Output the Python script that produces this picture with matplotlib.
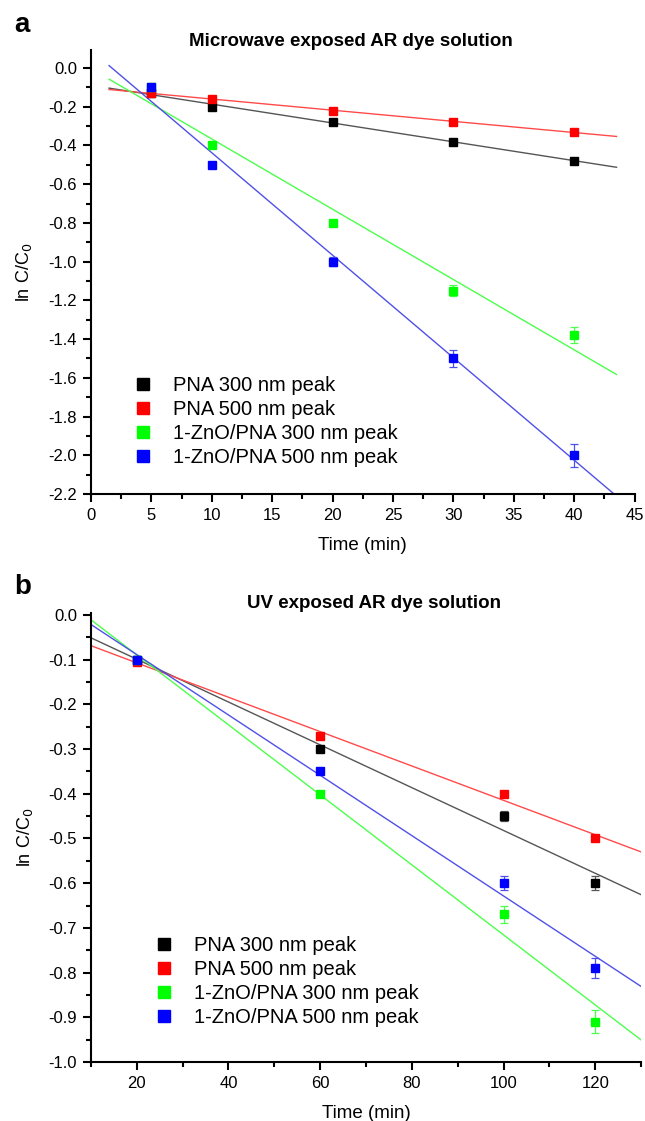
import numpy as np
import matplotlib
matplotlib.use("Agg")
import matplotlib.pyplot as plt
from matplotlib.ticker import MultipleLocator
from matplotlib.lines import Line2D

plt.rcParams['font.family'] = ['Liberation Sans', 'DejaVu Sans']

# ---------------- data ----------------
labels = ["PNA 300 nm peak", "PNA 500 nm peak",
          "1-ZnO/PNA 300 nm peak", "1-ZnO/PNA 500 nm peak"]
marker_colors = ["#000000", "#ff0000", "#00ff00", "#0000ff"]
line_colors = ["#555555", "#ff4a4a", "#4cff4c", "#5050e8"]

# Panel a: microwave exposed
time_a = [5, 10, 20, 30, 40]
pna300_a = [-0.13, -0.20, -0.28, -0.38, -0.48]
pna500_a = [-0.13, -0.16, -0.22, -0.28, -0.33]
zno300_a = [-0.10, -0.40, -0.80, -1.15, -1.38]
zno500_a = [-0.10, -0.50, -1.00, -1.50, -2.00]
err_pna300_a = [0.005, 0.005, 0.005, 0.005, 0.005]
err_pna500_a = [0.005, 0.005, 0.005, 0.005, 0.005]
err_zno300_a = [0.005, 0.01, 0.015, 0.03, 0.04]
err_zno500_a = [0.005, 0.01, 0.025, 0.045, 0.06]
fit_range_a = (1.5, 43.5)

# Panel b: UV exposed
time_b = [20, 60, 100, 120]
pna300_b = [-0.100, -0.30, -0.45, -0.60]
pna500_b = [-0.105, -0.27, -0.40, -0.50]
zno300_b = [-0.100, -0.40, -0.67, -0.91]
zno500_b = [-0.100, -0.35, -0.60, -0.79]
err_pna300_b = [0.003, 0.005, 0.012, 0.016]
err_pna500_b = [0.003, 0.003, 0.004, 0.005]
err_zno300_b = [0.003, 0.006, 0.02, 0.026]
err_zno500_b = [0.003, 0.005, 0.016, 0.022]
fit_range_b = (10, 130)

# ---------------- figure ----------------
fig = plt.figure(figsize=(6.45, 11.21), dpi=100)
ax_a = fig.add_axes([0.141, 0.5593, 0.843, 0.396])
ax_b = fig.add_axes([0.141, 0.0526, 0.853, 0.4005])


def draw(ax, t, series, errs, fit_range):
    xx = np.linspace(fit_range[0], fit_range[1], 50)
    for y, lc in zip(series, line_colors):
        k, b = np.polyfit(t, y, 1)
        ax.plot(xx, k * xx + b, color=lc, lw=1.0, zorder=2)
    for y, e, mc, lc in zip(series, errs, marker_colors, line_colors):
        ax.errorbar(t, y, yerr=e, fmt='s', color=mc, ms=6, mec=mc,
                    ecolor=lc, elinewidth=0.9, capsize=3, capthick=0.9,
                    zorder=3)
    for s in ['top', 'right']:
        ax.spines[s].set_visible(False)
    for s in ['left', 'bottom']:
        ax.spines[s].set_linewidth(1.5)
    ax.tick_params(which='major', direction='out', length=6, width=1.5,
                   labelsize=12, pad=4)
    ax.tick_params(which='minor', direction='out', length=3.5, width=1.5)
    ax.set_xlabel("Time (min)", fontsize=13.5, labelpad=10)
    ax.set_ylabel("ln C/C$_0$", fontsize=13, labelpad=10)
    handles = [Line2D([], [], ls='none', marker='s', ms=8, color=mc, mec=mc)
               for mc in marker_colors]
    return handles


def fmt(vals):
    return [f"{(round(v, 1) + 0.0):.1f}" for v in vals]


# Panel a
h = draw(ax_a, time_a, [pna300_a, pna500_a, zno300_a, zno500_a],
         [err_pna300_a, err_pna500_a, err_zno300_a, err_zno500_a], fit_range_a)
ax_a.set_xlim(0, 45)
ax_a.set_ylim(-2.2, 0.092)
ax_a.xaxis.set_major_locator(MultipleLocator(5))
ax_a.xaxis.set_minor_locator(MultipleLocator(2.5))
yt = np.arange(-2.2, 0.01, 0.2)
ax_a.set_yticks(yt)
ax_a.set_yticklabels(fmt(yt))
ax_a.yaxis.set_minor_locator(MultipleLocator(0.1))
ax_a.set_title("Microwave exposed AR dye solution", fontsize=13.5,
               fontweight='bold', pad=3, x=0.478)
ax_a.legend(h, labels, loc='upper left', bbox_to_anchor=(0.07, 0.285),
            frameon=False, fontsize=14.5, handlelength=0.6,
            handletextpad=1.2, labelspacing=0.25, borderaxespad=0)
fig.text(0.022, 0.978, "a", fontsize=20, fontweight='bold', va='center')

# Panel b
h = draw(ax_b, time_b, [pna300_b, pna500_b, zno300_b, zno500_b],
         [err_pna300_b, err_pna500_b, err_zno300_b, err_zno500_b], fit_range_b)
ax_b.set_xlim(10, 130)
ax_b.set_ylim(-1.0, 0.004)
ax_b.set_xticks(np.arange(20, 121, 20))
ax_b.xaxis.set_minor_locator(MultipleLocator(10))
yt = np.arange(-1.0, 0.01, 0.1)
ax_b.set_yticks(yt)
ax_b.set_yticklabels(fmt(yt))
ax_b.yaxis.set_minor_locator(MultipleLocator(0.05))
ax_b.set_title("UV exposed AR dye solution", fontsize=13.5,
               fontweight='bold', pad=4, x=0.515)
ax_b.legend(h, labels, loc='upper left', bbox_to_anchor=(0.107, 0.298),
            frameon=False, fontsize=14.5, handlelength=0.6,
            handletextpad=1.2, labelspacing=0.25, borderaxespad=0)
fig.text(0.022, 0.476, "b", fontsize=20, fontweight='bold', va='center')

fig.savefig("out.png", dpi=100)
